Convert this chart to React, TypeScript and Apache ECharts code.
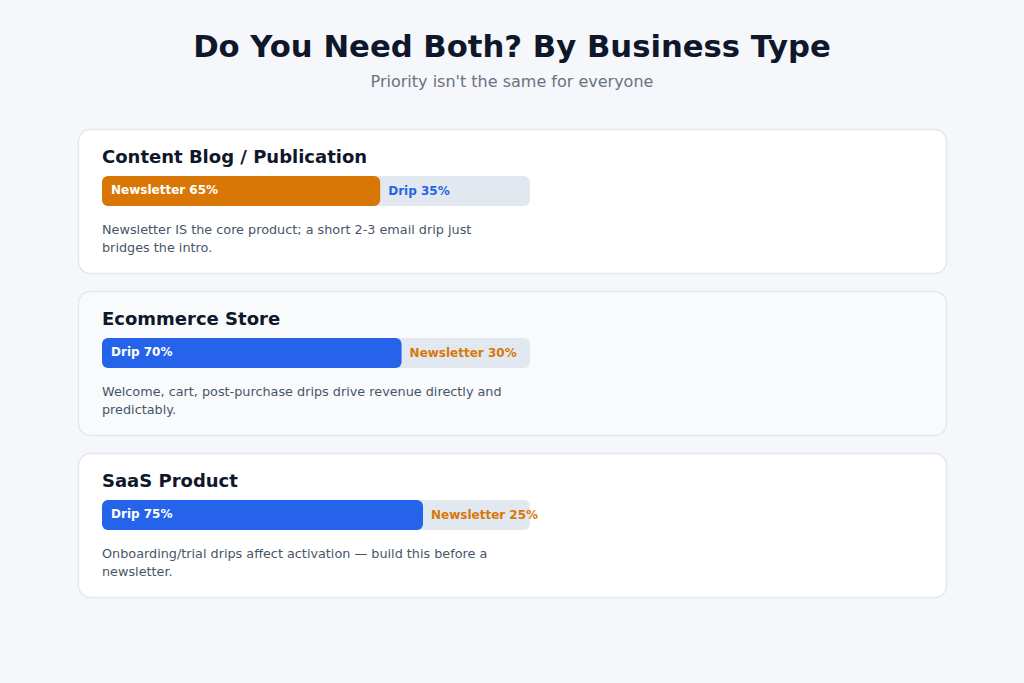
import React, { useEffect, useRef } from "react";
import * as echarts from "echarts";

const titleText = "Do You Need Both? By Business Type";
const subtitleText = "Priority isn't the same for everyone";
const businessTypes = ["Content Blog / Publication", "Ecommerce Store", "SaaS Product"];
const primaryNames = ["Newsletter", "Drip", "Drip"];
const primaryValues = [65, 70, 75];
const secondaryNames = ["Drip", "Newsletter", "Newsletter"];
const secondaryValues = [35, 30, 25];
const descriptions = [
  "Newsletter IS the core product; a short 2-3 email drip just bridges the intro.",
  "Welcome, cart, post-purchase drips drive revenue directly and predictably.",
  "Onboarding/trial drips affect activation \u2014 build this before a newsletter.",
];

const COLORS: Record<string, string> = { Newsletter: "#d97706", Drip: "#2563eb" };
const FONT = "DejaVu Sans";

export default function App() {
  const ref = useRef<HTMLDivElement>(null);
  useEffect(() => {
    if (!ref.current) return;
    const chart = echarts.init(ref.current, undefined, { renderer: "svg" });
    const cardTop0 = 129;
    const cardStep = 162;
    const cardH = 144;
    const grids: any[] = [];
    const xAxes: any[] = [];
    const yAxes: any[] = [];
    const series: any[] = [];
    const graphics: any[] = [
      {
        type: "text",
        left: "center",
        top: 31,
        style: { text: titleText, font: `bold 30.7px '${FONT}'`, fill: "#0f172a" },
      },
      {
        type: "text",
        left: "center",
        top: 73,
        style: { text: subtitleText, font: `16px '${FONT}'`, fill: "#6b7280" },
      },
    ];
    businessTypes.forEach((name, i) => {
      const top = cardTop0 + i * cardStep;
      graphics.push({
        type: "rect",
        shape: { x: 78.5, y: top + 0.5, width: 868, height: cardH, r: 12 },
        style: { fill: i === 1 ? "#f8fafc" : "#ffffff", stroke: "#e2e8f0", lineWidth: 1.5 },
        z: -10,
      });
      graphics.push({
        type: "text",
        x: 102,
        y: top + 27,
        style: { text: name, font: `bold 18px '${FONT}'`, fill: "#0f172a", verticalAlign: "middle" },
      });
      graphics.push({
        type: "text",
        x: 102,
        y: top + 91,
        style: {
          text: descriptions[i],
          font: `12.8px '${FONT}'`,
          fill: "#475569",
          width: 410,
          overflow: "break",
          lineHeight: 18,
        },
      });
      grids.push({ left: 102, top: top + 47, width: 428, height: 30 });
      xAxes.push({ gridIndex: i, type: "value", min: 0, max: 100, show: false });
      yAxes.push({ gridIndex: i, type: "category", data: [name], show: false });
      const pc = COLORS[primaryNames[i]];
      const sc = COLORS[secondaryNames[i]];
      series.push({
        type: "bar",
        xAxisIndex: i,
        yAxisIndex: i,
        data: [100],
        barWidth: 30,
        barGap: "-100%",
        silent: true,
        itemStyle: { color: "#e2e8f0", borderRadius: 6 },
        z: 1,
      });
      series.push({
        type: "bar",
        xAxisIndex: i,
        yAxisIndex: i,
        stack: "s" + i,
        data: [primaryValues[i]],
        barWidth: 30,
        barGap: "-100%",
        itemStyle: { color: pc, borderRadius: 6 },
        label: {
          show: true,
          position: "insideLeft",
          distance: 9,
          offset: [0, -1],
          formatter: `${primaryNames[i]} ${primaryValues[i]}%`,
          color: "#ffffff",
          fontFamily: FONT,
          fontWeight: "bold",
          fontSize: 12,
        },
        z: 3,
      });
      series.push({
        type: "bar",
        xAxisIndex: i,
        yAxisIndex: i,
        stack: "s" + i,
        data: [secondaryValues[i]],
        barWidth: 30,
        barGap: "-100%",
        itemStyle: { color: "rgba(0,0,0,0)" },
        label: {
          show: true,
          position: "insideLeft",
          distance: 8,
          offset: [0, -1],
          formatter: `${secondaryNames[i]} ${secondaryValues[i]}%`,
          color: sc,
          fontFamily: FONT,
          fontWeight: "bold",
          fontSize: 12,
        },
        labelLayout: { hideOverlap: false },
        z: 3,
      });
    });
    chart.setOption({
      animation: false,
      backgroundColor: "#f5f7fb",
      grid: grids,
      xAxis: xAxes,
      yAxis: yAxes,
      series,
      graphic: graphics,
    });
    return () => chart.dispose();
  }, []);
  return <div ref={ref} style={{ width: 1024, height: 683, position: "fixed", left: 0, top: 0 }} />;
}
